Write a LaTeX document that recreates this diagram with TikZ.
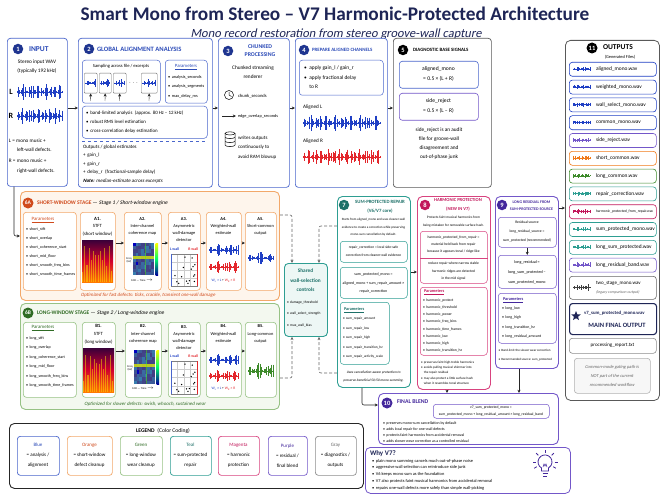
\documentclass[tikz,border=0pt]{standalone}
\usepackage{fontspec}
\setmainfont{Carlito}[ItalicFont=Carlito, ItalicFeatures={FakeSlant=0.2}, BoldItalicFont=Carlito Bold, BoldItalicFeatures={FakeSlant=0.2}]
\usetikzlibrary{arrows.meta,shapes.geometric}
\definecolor{navy}{HTML}{1E2556}
\definecolor{bnavy}{HTML}{1F3590}
\definecolor{cblue}{HTML}{4A66CC}
\definecolor{tblue}{HTML}{2C4BB8}
\definecolor{corange}{HTML}{F2A86A}
\definecolor{torange}{HTML}{D04A1C}
\definecolor{forange}{HTML}{FEF5EC}
\definecolor{cgreen}{HTML}{97C285}
\definecolor{tgreen}{HTML}{2F6B24}
\definecolor{fgreen}{HTML}{F3F8EF}
\definecolor{cteal}{HTML}{2E9E92}
\definecolor{tteal}{HTML}{1D7068}
\definecolor{fteal}{HTML}{EDF7F5}
\definecolor{cmag}{HTML}{D8437F}
\definecolor{tmag}{HTML}{C2185B}
\definecolor{cpurp}{HTML}{7357C9}
\definecolor{tpurp}{HTML}{44289C}
\definecolor{wblue}{HTML}{1F3FC4}
\definecolor{wred}{HTML}{E3262B}
\definecolor{wgreen}{HTML}{3D8A2A}
\definecolor{worange}{HTML}{F07A1A}
\newcommand\fs[2]{\fontsize{#1}{#2}\selectfont}
\tikzset{
 bxbase/.style={draw, rounded corners=3pt, line width=.7pt, inner sep=0, fill=white},
 txt/.style={inner sep=0, outer sep=0, align=center, font=\fs{5}{6}},
 lt/.style={txt, anchor=west, align=left},
 badge/.style={circle, fill=#1, text=white, font=\fs{6.5}{6.5}\bfseries, inner sep=0, minimum size=10.5pt},
 arr/.style={-{Stealth[length=3.2pt,width=3pt]}, line width=.6pt, black!85},
 dsh/.style={arr, densely dashed, black!60, rounded corners=2pt},
}
\newcommand\B[6][]{\node[bxbase,#1,anchor=north west,minimum width={(#5-#3)*1pt},minimum height={(#6-#4)*1pt}] (#2) at (#3,#4) {};}
% waveform: x y width halfheight color seed
\newcommand\wv[6]{\begin{scope}[shift={(#1,#2)}]
 \draw[#5,line width=.3pt] (0,0) -- (#3,0);
 \pgfmathtruncatemacro\nn{max(8,(#3)/1.3)}
 \foreach \kk in {0,...,\nn}{\pgfmathsetmacro\hh{(#4)*(0.1+0.9*abs(sin(\kk*#6))*abs(cos(\kk*#6*0.61+17)))}
  \draw[#5,line width=.45pt] ({\kk*(#3)/\nn},-\hh) -- ({\kk*(#3)/\nn},\hh);}
 \end{scope}}
% spectrogram: x y w h
\newcommand\spg[4]{\begin{scope}[shift={(#1,#2)}]
 \shade[top color=violet!45!black, bottom color=orange!95!red, middle color=red!65!violet] (0,0) rectangle (#3,#4);
 \foreach \kk in {0,...,13}{\pgfmathsetmacro\hh{(#4)*(0.25+0.6*abs(sin(\kk*83)))}
  \fill[yellow!85!orange, opacity=.5] ({\kk*(#3)/14},#4) rectangle ({\kk*(#3)/14+1.1},{#4-\hh});}
 \end{scope}}
% coherence map: x y w h
\newcommand\coh[4]{\begin{scope}[shift={(#1,#2)}]
 \foreach \ii in {0,...,7}{\foreach \jj in {0,...,9}{
  \pgfmathtruncatemacro\vv{abs(75*sin(\ii*67+\jj*131)*cos(\jj*41+\ii*23))}
  \fill[cyan!\vv!blue!75!black] ({\ii*(#3)/8},{\jj*(#4)/10}) rectangle ({(\ii+1)*(#3)/8+0.05},{(\jj+1)*(#4)/10+0.05});}}
 \fill[yellow!85!green, opacity=.8] (0,{0.42*(#4)}) rectangle (#3,{0.49*(#4)});
 \fill[green!70!yellow, opacity=.45] ({0.55*(#3)},0) rectangle ({0.62*(#3)},#4);
 \shade[top color=yellow, bottom color=blue!60!black, middle color=green!60!cyan] ({#3+1.5},0) rectangle ({#3+4},#4);
 \end{scope}}
% scatter: x y w h
\newcommand\sct[4]{\begin{scope}[shift={(#1,#2)}]
 \fill[white] (0,0) rectangle (#3,#4);
 \foreach \q in {1,2,3}{\draw[black!20,line width=.2pt] ({\q*(#3)/4},0) -- ({\q*(#3)/4},#4) (0,{\q*(#4)/4}) -- (#3,{\q*(#4)/4});}
 \draw[black!50,line width=.3pt] (0,0) rectangle (#3,#4);
 \draw[cblue,line width=.7pt] (0,0) -- (0,#4);
 \draw[wred,line width=.7pt] (#3,0) -- (#3,#4);
 \foreach \kk in {1,...,16}{\fill ({(#3)*(0.08+0.84*abs(sin(\kk*71)))},{(#4)*(0.08+0.84*abs(sin(\kk*113+20)))}) circle (0.75);}
 \end{scope}}
\begin{document}
\begin{tikzpicture}[x=1pt,y=-1pt]
\fill[white] (0,0) rectangle (666,500);
\useasboundingbox (0,0) rectangle (666,500);
% ---------- title
\node[txt,font=\fs{19.3}{19.3}\bfseries,text=navy] (title) at (335,14) {Smart Mono from Stereo – V7 Harmonic-Protected Architecture};
\node[txt,font=\fs{12.5}{12.5}\itshape,text=navy] (subtitle) at (336,34) {Mono record restoration from stereo groove-wall capture};
% ---------- 1 INPUT
\B[draw=cblue]{b1}{7}{38}{67}{186}
\node[badge=bnavy] (n1) at (18,49) {1};
\node[lt,font=\fs{7.5}{7.5}\bfseries,text=tblue] (h1) at (29,49) {INPUT};
\node[txt,font=\fs{5.3}{9}] (t1a) at (37,67) {Stereo input WAV\\(typically 192 kHz)};
\node[txt,font=\fs{8}{8}\bfseries] (lL) at (11,92) {L};
\wv{17}{92}{45}{8}{wblue}{53}
\node[txt,font=\fs{8}{8}\bfseries] (lR) at (11,116) {R};
\wv{17}{116}{45}{8}{wblue}{71}
\node[lt,font=\fs{5.2}{9}] (t1b) at (9,145.5) {L = mono music +\\\hspace*{8pt}left-wall defects.};
\node[lt,font=\fs{5.2}{10}] (t1c) at (9,166) {R = mono music +\\\hspace*{8pt}right-wall defects.};
% ---------- 2 GLOBAL ALIGNMENT
\B[draw=cblue]{b2}{78}{38}{212}{187}
\node[badge=bnavy] (n2) at (89,49) {2};
\node[lt,font=\fs{6.6}{6.6}\bfseries,text=tblue] (h2) at (97,49) {GLOBAL ALIGNMENT ANALYSIS};
\B[draw=cblue,line width=.5pt]{s2}{82}{60}{160}{103}
\node[txt,font=\fs{4.6}{4.6}] (t2s) at (121,66) {Sampling across file / excerpts};
\foreach \xa/\ww/\sd in {84/13/31, 99/12/43, 113/13/59, 141/16/67}{
  \node[bxbase,draw=black!55,line width=.4pt,rounded corners=1pt,anchor=north west,minimum width=\ww pt,minimum height=20pt] (m\xa) at (\xa,73) {};
  \wv{\xa+1.5}{83}{\ww-3}{4}{wblue}{\sd}
  \draw[arr,line width=.4pt] (\xa+\ww/2,101) -- (m\xa.south);
}
\node[txt,font=\fs{6}{6}\bfseries] (dots2) at (133.5,83) {$\cdots$};
\B[draw=cblue,line width=.5pt]{p2}{165}{60}{207}{103}
\node[txt,font=\fs{4.8}{4.8},text=tblue] (pt2) at (186,67) {\underline{Parameters}};
\node[lt,font=\fs{4.3}{9.5}] (pl2) at (168,86.5) {•\, analysis\_seconds\\•\, analysis\_segments\\•\, max\_delay\_ms};
\B[draw=cblue,line width=.5pt]{c2}{82}{106}{207}{138}
\node[lt,font=\fs{4.9}{9}] (cl2) at (86,122) {•\, band-limited analysis\enspace(approx. 80 Hz – 12 kHz)\\•\, robust RMS level estimation\\•\, cross-correlation delay estimation};
\draw[cblue,dashed,line width=.5pt] (82,141) -- (207,141);
\node[lt,font=\fs{5}{8.5}] (o2) at (83,164) {Outputs / global estimates\\+\, gain\_l\\+\, gain\_r\\+\, delay\_r\enspace (fractional-sample delay)\\\textit{\textbf{Note:} median-estimate across excerpts}};
% ---------- 3 CHUNKED
\B[draw=cblue]{b3}{218}{38}{289}{187}
\node[badge=bnavy] (n3) at (228,51) {3};
\node[txt,font=\fs{5.8}{8}\bfseries,text=tblue] (h3) at (260,51) {CHUNKED\\PROCESSING};
\node[txt,font=\fs{5.3}{9.5}] (t3a) at (253,72) {Chunked streaming\\renderer};
\draw[line width=.5pt] (229,95) circle (4.5);
\draw[line width=.5pt] (229,92) -- (229,95) -- (231.5,96.5);
\node[lt,font=\fs{4.6}{4.6}] (t3b) at (238,96) {chunk\_seconds};
\draw[arr] (222,116) -- (236,116);
\node[lt,font=\fs{4.3}{4.3}] (t3c) at (238,116) {edge\_overlap\_seconds};
\foreach \yy in {145,141,137}{\filldraw[fill=white,line width=.5pt] (225,\yy-3.6) -- (225,\yy) arc[start angle=180,end angle=0,x radius=5,y radius=1.6] -- (235,\yy-3.6);}
\filldraw[fill=white,line width=.5pt] (230,133.4) ellipse [x radius=5, y radius=1.6];
\node[lt,font=\fs{5}{9.5}] (t3d) at (238,147.5) {writes outputs\\continuously to\\avoid RAM blowup};
% ---------- 4 PREPARE
\B[draw=cblue]{b4}{295}{38}{387}{187}
\node[badge=bnavy] (n4) at (304,50) {4};
\node[lt,font=\fs{4.9}{4.9}\bfseries,text=tblue] (h4) at (312,50) {PREPARE ALIGNED CHANNELS};
\B[draw=cblue,line width=.5pt]{c4}{299}{60}{383}{95}
\node[lt,font=\fs{5.4}{9.5}] (t4a) at (304,77.5) {•\enspace apply gain\_l / gain\_r\\•\enspace apply fractional delay\\\hphantom{•\enspace }to R};
\node[lt,font=\fs{5.2}{5.2}] (t4b) at (303,107) {Aligned L};
\wv{303}{123}{77}{8}{wblue}{47}
\node[lt,font=\fs{5.2}{5.2}] (t4c) at (303,141) {Aligned R};
\wv{303}{157}{77}{8}{wred}{61}
% ---------- 5 DIAGNOSTIC
\B[draw=black!65]{b5}{393}{38}{491}{187}
\node[badge=black] (n5) at (403,50) {5};
\node[lt,font=\fs{4.9}{4.9}\bfseries] (h5) at (413,50) {DIAGNOSTIC BASE SIGNALS};
\B[draw=cblue,line width=.6pt]{am}{399}{61}{478}{88}
\node[txt,font=\fs{5.6}{9.5}] (tam) at (438.5,74) {aligned\_mono\\= 0.5 × (L + R)};
\B[draw=cpurp,line width=.6pt]{srj}{399}{93}{478}{120}
\node[txt,font=\fs{5.6}{9.5}] (tsr) at (438.5,106) {side\_reject\\= 0.5 × (L – R)};
\node[txt,font=\fs{5.3}{9.2}] (t5) at (439,143.5) {side\_reject is an audit\\file for groove-wall\\disagreement and\\out-of-phase junk};
% ---------- 6A
\B[draw=corange,fill=forange,line width=.9pt,rounded corners=5pt]{b6a}{20}{191}{279}{300}
\node[badge=torange,font=\fs{5.5}{5.5}\bfseries,minimum size=11pt] (n6a) at (28,203) {6A};
\node[lt,font=\fs{5.5}{5.5}] (h6a) at (37,203) {\textcolor{torange}{\textbf{SHORT-WINDOW STAGE}} — \textit{Stage 1 / Short-window engine}};
\B[draw=corange,line width=.6pt]{p6a}{23}{212}{76}{290}
\node[txt,font=\fs{4.9}{4.9},text=torange] (pt6a) at (43,220) {\underline{Parameters}};
\node[lt,font=\fs{4}{9}] (pl6a) at (26,251.5) {•\, short\_stft\\•\, short\_overlap\\•\, short\_coherence\_start\\•\, short\_mid\_floor\\•\, short\_smooth\_freq\_bins\\•\, short\_smooth\_time\_frames};
\B[draw=corange,line width=.6pt]{a1}{80}{212}{115}{290}
\node[txt,font=\fs{4.8}{7.5}] (ta1) at (97.5,226.5) {\textbf{A1.}\\STFT\\(short window)};
\spg{82}{240}{31}{42}
\B[draw=corange,line width=.6pt]{a2}{124}{212}{161}{290}
\node[txt,font=\fs{4.4}{7}] (ta2) at (142.5,226.5) {\textbf{A2.}\\Inter-channel\\coherence map};
\coh{133}{243}{21}{32}
\node[txt,font=\fs{2.8}{3.3}] (fq1) at (129,260) {Freq\\(Hz)};
\node[txt,font=\fs{2.8}{2.8}] (tm1) at (142,280.5) {0.00 — Time $\rightarrow$};
\B[draw=corange,line width=.6pt]{a3}{168}{212}{200}{290}
\node[txt,font=\fs{4.4}{7}] (ta3) at (184,230) {\textbf{A3.}\\Asymmetric\\wall-damage\\detector};
\node[lt,font=\fs{3.8}{3.8}\bfseries,text=wblue] (lw1) at (170,249) {L wall};
\node[txt,anchor=east,font=\fs{3.8}{3.8}\bfseries,text=wred] (rw1) at (198,249) {R wall};
\sct{171}{254}{26}{32}
\B[draw=corange,line width=.6pt]{a4}{206}{212}{241}{290}
\node[txt,font=\fs{4.4}{7}] (ta4) at (223.5,226.5) {\textbf{A4.}\\Weighted-wall\\estimate};
\wv{209}{250}{29}{6}{wblue}{37}
\wv{209}{267}{29}{6}{wred}{41}
\node[txt,font=\fs{3.6}{3.6}] (fa4) at (223.5,281) {\textcolor{wblue}{W\textsubscript{L} × L} + \textcolor{wred}{W\textsubscript{R} × R}};
\B[draw=corange,line width=.6pt]{a5}{245}{212}{276}{290}
\node[txt,font=\fs{4.4}{7}] (ta5) at (260.5,226.5) {\textbf{A5.}\\Short-common\\output};
\wv{248}{258}{25}{6}{wblue}{29}
\node[txt,font=\fs{4.9}{4.9}\itshape,text=torange] (cap6a) at (148,295) {Optimized for fast defects: ticks, crackle, transient one-wall damage};
% ---------- 6B
\B[draw=cgreen,fill=fgreen,line width=.9pt,rounded corners=5pt]{b6b}{20}{303}{279}{409}
\node[badge=tgreen,font=\fs{5.5}{5.5}\bfseries,minimum size=11pt] (n6b) at (28,313) {6B};
\node[lt,font=\fs{5.5}{5.5}] (h6b) at (37,313) {\textcolor{tgreen}{\textbf{LONG-WINDOW STAGE}} — \textit{Stage 2 / Long-window engine}};
\B[draw=cgreen,line width=.6pt]{p6b}{23}{322}{76}{397}
\node[txt,font=\fs{4.9}{4.9},text=tgreen] (pt6b) at (43,328) {\underline{Parameters}};
\node[lt,font=\fs{4}{9.5}] (pl6b) at (26,361.75) {•\, long\_stft\\•\, long\_overlap\\•\, long\_coherence\_start\\•\, long\_mid\_floor\\•\, long\_smooth\_freq\_bins\\•\, long\_smooth\_time\_frames};
\B[draw=cgreen,line width=.6pt]{bb1}{82}{322}{115}{397}
\node[txt,font=\fs{4.8}{8}] (tb1) at (98.5,334) {\textbf{B1.}\\STFT\\(long window)};
\spg{83}{348}{31}{44}
\B[draw=cgreen,line width=.6pt]{bb2}{125}{322}{161}{397}
\node[txt,font=\fs{4.4}{7.5}] (tb2) at (143,334) {\textbf{B2.}\\Inter-channel\\coherence map};
\coh{134}{350}{21}{34}
\node[txt,font=\fs{2.8}{3.3}] (fq2) at (130,368) {Freq\\(Hz)};
\node[txt,font=\fs{2.8}{2.8}] (tm2) at (143,389) {0.00 — Time $\rightarrow$};
\B[draw=cgreen,line width=.6pt]{bb3}{168}{322}{200}{397}
\node[txt,font=\fs{4.4}{7}] (tb3) at (184,337.5) {\textbf{B3.}\\Asymmetric\\wall-damage\\detector};
\node[lt,font=\fs{3.8}{3.8}\bfseries,text=wblue] (lw2) at (170,356) {L wall};
\node[txt,anchor=east,font=\fs{3.8}{3.8}\bfseries,text=wred] (rw2) at (198,356) {R wall};
\sct{171}{361}{26}{33}
\B[draw=cgreen,line width=.6pt]{bb4}{206}{322}{241}{397}
\node[txt,font=\fs{4.4}{7.5}] (tb4) at (223.5,334) {\textbf{B4.}\\Weighted-wall\\estimate};
\wv{209}{360}{29}{6}{wblue}{39}
\wv{209}{376}{29}{6}{wred}{43}
\node[txt,font=\fs{3.6}{3.6}] (fb4) at (223.5,389) {\textcolor{wblue}{W\textsubscript{L} × L} + \textcolor{wred}{W\textsubscript{R} × R}};
\B[draw=cgreen,line width=.6pt]{bb5}{245}{322}{276}{397}
\node[txt,font=\fs{4.4}{7.5}] (tb5) at (260.5,334) {\textbf{B5.}\\Long-common\\output};
\wv{248}{371}{25}{8}{wgreen}{33}
\node[txt,font=\fs{4.9}{4.9}\itshape,text=tgreen] (cap6b) at (145,404) {Optimized for slower defects: swish, whooch, sustained wear};
% ---------- shared
\B[draw=cteal,fill=fteal,line width=.9pt,rounded corners=4pt]{sh}{284}{263}{327}{336}
\node[txt,font=\fs{5.3}{9.5}\bfseries,text=tteal] (tsh) at (305.5,280.5) {Shared\\wall-selection\\controls};
\node[lt,font=\fs{3.6}{11.5}] (lsh) at (287,313.5) {•\, damage\_threshold\\•\, wall\_select\_strength\\•\, max\_wall\_bias};
% ---------- 7
\B[draw=cteal,line width=.9pt,rounded corners=5pt]{b7}{337}{196}{410}{387}
\node[badge=tteal] (n7) at (344,205) {7};
\node[txt,font=\fs{4.8}{9}\bfseries,text=tteal] (h7) at (380,206.5) {SUM-PROTECTED REPAIR\\(V6/V7 core)};
\node[txt,font=\fs{3.25}{7.6}] (i7) at (373.5,227.3) {Starts from aligned\_mono and uses cleaner-wall\\evidence to create a correction while preserving\\mono-sum cancellation by default.};
\B[draw=cteal,line width=.5pt]{r7a}{340}{241}{407}{262}
\node[txt,font=\fs{3.6}{8.5}] (tr7a) at (373.5,251.5) {repair\_correction = local side-safe\\correction from cleaner-wall evidence};
\B[draw=cteal,line width=.5pt]{r7b}{340}{267}{407}{298}
\node[txt,font=\fs{3.9}{8.2}] (tr7b) at (373.5,283) {sum\_protected\_mono =\\aligned\_mono + sum\_repair\_amount ×\\repair\_correction};
\B[draw=cteal,line width=.5pt]{p7}{340}{302}{389}{364}
\node[lt,font=\fs{4.3}{4.3}\bfseries,text=tteal] (pt7) at (344,310) {\underline{Parameters}};
\node[lt,font=\fs{3.5}{9.5}] (pl7) at (343,338) {•\, sum\_repair\_amount\\•\, sum\_repair\_low\\•\, sum\_repair\_high\\•\, sum\_repair\_transition\_hz\\•\, sum\_repair\_activity\_scale};
\node[txt,font=\fs{3.5}{8}\itshape] (b7t) at (373.5,377) {Uses cancellation-aware protection to\\preserve beneficial 50/50 mono summing.};
% ---------- 8
\B[draw=cmag,line width=.9pt,rounded corners=5pt]{b8}{417}{196}{490}{389}
\node[badge=tmag] (n8) at (425,205) {8};
\node[txt,font=\fs{4.6}{8.5}\bfseries,text=tmag] (h8) at (458,205) {HARMONIC PROTECTION\\(NEW IN V7)};
\node[txt,font=\fs{3.45}{7.5}] (i8) at (453.5,221.8) {Protects faint musical harmonics from\\being mistaken for removable surface hash.};
\B[draw=cmag,line width=.5pt]{h8b}{420}{231}{487}{283}
\draw[cmag,line width=.5pt] (h8b.west |- 0,258) -- (h8b.east |- 0,258);
\node[txt,font=\fs{3.6}{7}] (h8u) at (453.5,245) {harmonic\_protected\_from\_repair =\\material held back from repair\\because it appears tonal / ridge-like};
\node[txt,font=\fs{3.6}{7.5}] (h8l) at (453.5,271.5) {reduce repair where narrow stable\\harmonic ridges are detected\\in the mid signal};
\B[draw=cmag,line width=.5pt]{p8}{420}{287}{487}{355}
\node[lt,font=\fs{4.3}{4.3}\bfseries,text=tmag] (pt8) at (424,292.5) {\underline{Parameters}};
\node[lt,font=\fs{3.7}{7.1}] (pl8) at (423,325.5) {•\, harmonic\_protect\\•\, harmonic\_threshold\\•\, harmonic\_power\\•\, harmonic\_freq\_bins\\•\, harmonic\_time\_frames\\•\, harmonic\_low\\•\, harmonic\_high\\•\, harmonic\_transition\_hz};
\node[lt,font=\fs{3.3}{5.4}] (bl8) at (421,372.8) {•\, preserves faint high-treble harmonics\\•\, avoids pulling musical shimmer into\\\hphantom{•\, }the repair residual\\•\, may also protect a little surface hash\\\hphantom{•\, }when it resembles tonal structure};
% ---------- 9
\B[draw=cpurp,line width=.9pt,rounded corners=5pt]{b9}{495}{196}{558}{368}
\node[badge=tpurp] (n9) at (502,205) {9};
\node[txt,font=\fs{4}{7}\bfseries,text=tpurp] (h9) at (531.5,205.5) {LONG RESIDUAL FROM\\SUM-PROTECTED SOURCE};
\B[draw=cpurp,line width=.5pt]{r9a}{498}{217}{556}{247}
\node[txt,font=\fs{3.7}{8.8}] (tr9a) at (527,231.5) {Residual source\\long\_residual\_source =\\sum\_protected (recommended)};
\B[draw=cpurp,line width=.5pt]{r9b}{498}{255}{556}{288}
\node[txt,font=\fs{4.1}{10}] (tr9b) at (527,272) {long\_residual =\\long\_sum\_protected –\\sum\_protected\_mono};
\B[draw=cpurp,line width=.5pt]{p9}{498}{293}{556}{343}
\node[lt,font=\fs{4.3}{4.3}\bfseries,text=tpurp] (pt9) at (503,300) {\underline{Parameters}};
\node[lt,font=\fs{3.9}{9.6}] (pl9) at (502,322.5) {•\, long\_low\\•\, long\_high\\•\, long\_transition\_hz\\•\, long\_residual\_amount};
\node[lt,font=\fs{3.2}{9}] (bl9) at (498.5,355.5) {•\, Band-limit the slower wear correction\\•\, Recommended source: sum\_protected};
% ---------- 10
\B[draw=cpurp,line width=.9pt,rounded corners=5pt]{b10}{378}{393}{558}{444}
\node[badge=tpurp,minimum size=11pt] (n10) at (387,403) {10};
\node[lt,font=\fs{5.8}{5.8}\bfseries,text=tpurp] (h10) at (397,402) {FINAL BLEND};
\B[draw=cpurp,line width=.5pt]{fb}{433}{404}{549}{418}
\node[txt,font=\fs{3.7}{6.3}] (tfb) at (491,411) {v7\_sum\_protected\_mono =\\sum\_protected\_mono + long\_residual\_amount × long\_residual\_band};
\node[lt,font=\fs{3.9}{5.9}] (bl10) at (383,432) {•\, preserves mono-sum cancellation by default\\•\, adds local repair for one-wall defects\\•\, protects faint harmonics from accidental removal\\•\, adds slower wear correction as a controlled residual};
% ---------- Why V7
\B[draw=cpurp,line width=.8pt,rounded corners=5pt]{why}{365}{447}{570}{493}
\node[lt,font=\fs{7}{7}\bfseries,text=navy] (hwhy) at (370,454) {Why V7?};
\node[lt,font=\fs{4.4}{6.75}] (lwhy) at (372,474.5) {•\, plain mono summing cancels much out-of-phase noise\\•\, aggressive wall selection can reintroduce side junk\\•\, V6 keeps mono sum as the foundation\\•\, V7 also protects faint musical harmonics from accidental removal\\•\, repairs one-wall defects more safely than simple wall-picking};
\begin{scope}[tpurp,line width=.8pt]
 \draw (541.5,468) arc[start angle=120,end angle=420,radius=7] -- (548.5,471) -- (541.5,471) -- cycle;
 \draw (542.5,473.5) -- (547.5,473.5) (543,476) -- (547,476);
 \draw[line width=.5pt] (543,467) -- (544,464) -- (545,466) -- (546,464) -- (547,467);
 \foreach \a in {270,225,315,180,0,150,30}{\draw (545,462) ++(\a:9.5) -- ++(\a:3);}
\end{scope}
% ---------- Legend
\B[draw=black!85,line width=.9pt,rounded corners=5pt]{leg}{9}{423}{363}{488}
\node[txt,font=\fs{5.6}{5.6}] (hleg) at (163,431) {\textbf{LEGEND}\enspace(Color Coding)};
\B[draw=cblue,line width=.7pt]{lg1}{17}{436}{59}{475}
\node[txt,font=\fs{5}{10}] (tl1) at (38,455.5) {\textcolor{tblue}{Blue}\\= analysis /\\alignment};
\B[draw=corange,line width=.7pt]{lg2}{67}{436}{112}{475}
\node[txt,font=\fs{5}{10}] (tl2) at (89.5,455.5) {\textcolor{torange}{Orange}\\= short-window\\defect cleanup};
\B[draw=cgreen,line width=.7pt]{lg3}{120}{436}{162}{475}
\node[txt,font=\fs{5}{10}] (tl3) at (141,455.5) {\textcolor{tgreen}{Green}\\= long-window\\wear cleanup};
\B[draw=cteal,line width=.7pt]{lg4}{170}{436}{211}{475}
\node[txt,font=\fs{5}{10}] (tl4) at (190.5,455.5) {\textcolor{tteal}{Teal}\\= sum-protected\\repair};
\B[draw=cmag,line width=.7pt]{lg5}{218}{436}{259}{475}
\node[txt,font=\fs{5}{10}] (tl5) at (238.5,455.5) {\textcolor{tmag}{Magenta}\\= harmonic\\protection};
\B[draw=cpurp,line width=.7pt]{lg6}{268}{436}{307}{475}
\node[txt,font=\fs{5}{10}] (tl6) at (287.5,455.5) {\textcolor{tpurp}{Purple}\\= residual /\\final blend};
\B[draw=black!45,line width=.7pt]{lg7}{315}{436}{356}{475}
\node[txt,font=\fs{5}{10}] (tl7) at (335.5,455.5) {\textcolor{black!60}{Gray}\\= diagnostics /\\outputs};
% ---------- 11 Outputs
\B[draw=black!65,line width=.8pt,rounded corners=5pt]{b11}{565}{40}{659}{400}
\node[badge=black,minimum size=11pt] (n11) at (592,48) {11};
\node[lt,font=\fs{7.5}{7.5}\bfseries] (h11) at (603,47) {OUTPUTS};
\node[txt,font=\fs{4.4}{4.4}] (s11) at (620,57.5) {(Generated Files)};
\foreach \ii/\nm/\cl/\fz in {0/aligned\_mono.wav/wblue/5.4, 1/weighted\_mono.wav/wblue/5.4, 2/wall\_select\_mono.wav/wblue/5.4, 3/common\_mono.wav/wblue/5.4, 4/side\_reject.wav/cpurp/5.4, 5/short\_common.wav/worange/5.4, 6/long\_common.wav/wgreen/5.4, 7/repair\_correction.wav/cteal/5.4, 8/harmonic\_protected\_from\_repair.wav/tmag/3.7, 9/sum\_protected\_mono.wav/cteal/5.4, 10/long\_sum\_protected.wav/cteal/5.4, 11/long\_residual\_band.wav/cpurp/5.4}{
  \pgfmathsetmacro\yt{62+17.8*\ii}
  \B[draw=\cl,line width=.6pt]{f\ii}{569}{\yt}{656}{\yt+14}
  \wv{573}{\yt+7}{17}{3.2}{\cl}{37+\ii*11}
  \node[lt,font=\fs{\fz}{\fz}] (fl\ii) at (596,\yt+7) {\nm};
}
\B[draw=black!60,line width=.6pt]{f12}{569}{276}{656}{299}
\wv{573}{287.5}{17}{3.2}{black!75}{97}
\node[lt,font=\fs{5}{5}] (fl12) at (596,283) {two\_stage\_mono.wav};
\node[lt,font=\fs{3.9}{3.9}\itshape,text=black!60] (fl12b) at (596,292) {(legacy comparison output)};
\B[draw=navy,line width=1.1pt]{f13}{569}{303}{656}{334}
\node[star,star points=5,star point ratio=2.3,fill=navy,inner sep=0,minimum size=10pt] (star) at (576,316) {};
\node[lt,font=\fs{4.8}{4.8}\bfseries,text=navy] (fl13) at (584,313) {v7\_sum\_protected\_mono.wav};
\node[txt,font=\fs{6.5}{6.5}\bfseries,text=navy] (fl13b) at (617,325) {MAIN FINAL OUTPUT};
\B[draw=black!45,line width=.6pt]{f14}{569}{338}{656}{353}
\node[txt,font=\fs{5}{5}] (fl14) at (612.5,345.5) {processing\_report.txt};
\B[draw=black!30,fill=black!3,line width=.6pt]{f15}{574}{358}{650}{393}
\node[txt,font=\fs{4.5}{9}\itshape,text=black!60] (fl15) at (612,375.5) {Common-mode gating path is\\NOT part of the current\\recommended workflow};
% ---------- connectors
\draw[arr] (b1.east |- 0,108) -- (b2.west |- 0,108);
\draw[arr] (b2.east |- 0,108) -- (b3.west |- 0,108);
\draw[arr] (b3.east |- 0,108) -- (b4.west |- 0,108);
\draw[arr] (b4.east |- 0,108) -- (b5.west |- 0,108);
\draw[arr,rounded corners=2pt] (b1.south -| 14,0) -- (14,236) -- (b6a.west |- 0,236);
\draw[arr] (a1.east |- 0,243) -- (a2.west |- 0,243);
\draw[arr] (a2.east |- 0,243) -- (a3.west |- 0,243);
\draw[arr] (a3.east |- 0,243) -- (a4.west |- 0,243);
\draw[arr] (a4.east |- 0,243) -- (a5.west |- 0,243);
\draw[arr] (bb1.east |- 0,351) -- (bb2.west |- 0,351);
\draw[arr] (bb2.east |- 0,351) -- (bb3.west |- 0,351);
\draw[arr] (bb3.east |- 0,351) -- (bb4.west |- 0,351);
\draw[arr] (bb4.east |- 0,351) -- (bb5.west |- 0,351);
\draw[dsh] (b6a.east |- 0,215) -- (292,215) -- (sh.north -| 292,0);
\draw[dsh] (b7.west |- 0,226) -- (319,226) -- (sh.north -| 319,0);
\draw[dsh] (b6b.east |- 0,378) -- (292,378) -- (sh.south -| 292,0);
\draw[dsh] (b7.west |- 0,373) -- (319,373) -- (sh.south -| 319,0);
\draw[arr] (b7.east |- 0,272) -- (b8.west |- 0,272);
\draw[arr] (b9.east |- 0,208) -- (b11.west |- 0,208);
\draw[arr] (r9a.south) -- (r9b.north);
\draw[arr,rounded corners=2pt] (b7.south -| 362,0) -- (362,405) -- (b10.west |- 0,405);
\draw[arr] (b8.south -| 447,0) -- (b10.north -| 447,0);
\draw[arr] (b9.south -| 519,0) -- (b10.north -| 519,0);
\end{tikzpicture}
\end{document}
